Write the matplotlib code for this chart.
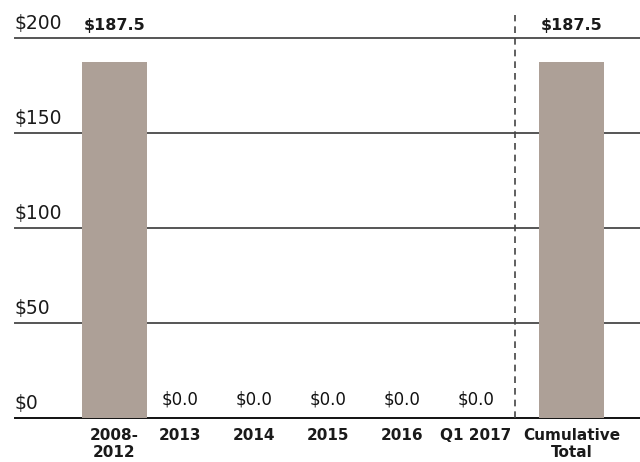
import matplotlib.pyplot as plt
from matplotlib import font_manager

categories = ["2008-\n2012", "2013", "2014", "2015", "2016", "Q1 2017", "Cumulative\nTotal"]
values = [187.5, 0.0, 0.0, 0.0, 0.0, 0.0, 187.5]
yticks = [0, 50, 100, 150, 200]

# horizontal centres, in pixel-like units of the axis
xpos = [114.5, 180, 254, 328, 402, 476, 571.5]
divider_x = 515

names = {f.name for f in font_manager.fontManager.ttflist}
fam = ["Liberation Sans Narrow", "DejaVu Sans"] if "Liberation Sans Narrow" in names else ["DejaVu Sans"]
plt.rcParams["font.family"] = fam

fig = plt.figure(figsize=(6.4, 4.62), dpi=100)
ax = fig.add_axes([15 / 640, 1 - 418 / 462, 1 - 15 / 640, (418 - 38) / 462])
ax.set_xlim(15, 640)
ax.set_ylim(0, 200)

bar_color = "#ada097"
for x, v in zip(xpos, values):
    if v > 0:
        ax.bar(x, v, width=65, color=bar_color, zorder=3)

for t in yticks:
    ax.axhline(t, color="#111111" if t == 0 else "#555555", lw=1.4, zorder=2,
               clip_on=False)
    ax.text(15, t + 2.5, f"${t}", fontsize=13.5, ha="left", va="bottom",
            color="#1a1a1a", clip_on=False)

for x, v in zip(xpos, values):
    if v > 0:
        ax.text(x, 206.5, f"${v:.1f}", ha="center", va="center", fontsize=11.5,
                fontweight="bold", color="#1a1a1a", clip_on=False)
    else:
        ax.text(x, 9.5, f"${v:.1f}", ha="center", va="center", fontsize=12,
                color="#111111")

for x, c in zip(xpos, categories):
    ax.text(x, -5.5, c, ha="center", va="top", fontsize=11, fontweight="bold",
            color="#1a1a1a", linespacing=1.1, clip_on=False)

ax.plot([divider_x, divider_x], [0, 212], ls=(0, (4, 3)), color="#444444", lw=1.2,
        clip_on=False, zorder=4)

ax.axis("off")
fig.savefig("out.png", dpi=100)
